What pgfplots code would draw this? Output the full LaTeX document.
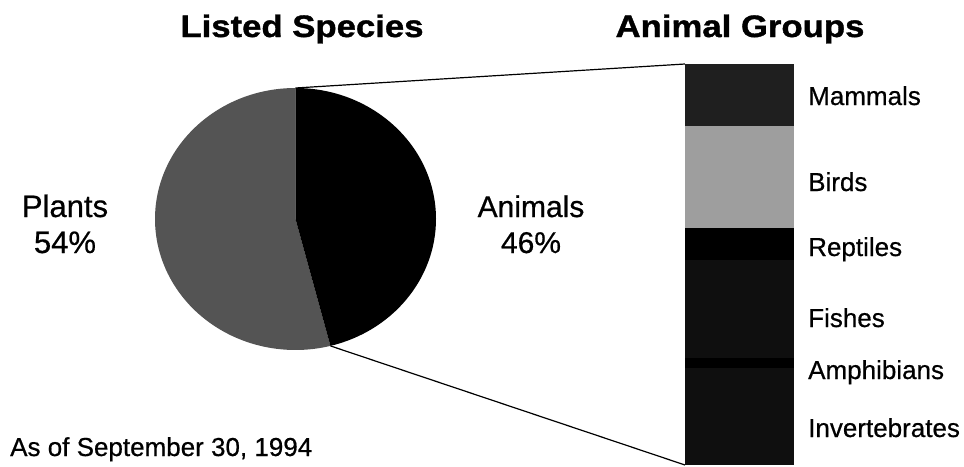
\documentclass[border=0pt]{standalone}
\usepackage{pgfplots}
\pgfplotsset{compat=1.18}
\usepackage{fontspec}
\setmainfont{Liberation Sans}[FakeBold=0.6]
\newfontfamily\titlefont{Liberation Sans Bold}[FakeStretch=1.12, FakeBold=1.2]

\definecolor{plantgray}{gray}{0.33}
\definecolor{mammalgray}{gray}{0.12}
\definecolor{birdgray}{gray}{0.62}
\definecolor{fishgray}{gray}{0.06}

% pie shares (percent)
\def\plants{54}
\def\animals{46}

\begin{document}
\begin{tikzpicture}
% frame axis: one unit = one pixel of the reference
\begin{axis}[
    at={(0pt,0pt)}, anchor=south west,
    scale only axis, width=964pt, height=466pt,
    xmin=0, xmax=964, ymin=0, ymax=466,
    y dir=reverse, hide axis, clip=false,
]
\addplot[draw=none] coordinates {(0,0) (964,466)};
\pgfmathsetmacro\aend{90-\animals*3.6}
\pgfmathsetmacro\pend{90+\plants*3.6}
% pie
\fill[plantgray] (axis cs:295.5,219) -- ++(90:140.5pt and 131pt)
    arc[start angle=90, end angle=\pend, x radius=140.5pt, y radius=131pt] -- cycle;
\fill[black] (axis cs:295.5,219) -- ++(90:140.5pt and 131pt)
    arc[start angle=90, end angle=\aend, x radius=140.5pt, y radius=131pt] -- cycle;
% connecting lines
\addplot[black, line width=1.2pt] coordinates {(295.5,88) (685,64)};
\addplot[black, line width=1.2pt] coordinates {(330.4,345.9) (685,465)};
% titles
\begin{scope}[every node/.style={anchor=base, inner sep=0pt, font=\fontsize{31}{36}\selectfont\titlefont}]
\node at (axis cs:302,37) {Listed Species};
\node at (axis cs:740,37) {Animal Groups};
\end{scope}
% pie labels
\begin{scope}[every node/.style={anchor=base, inner sep=0pt, font=\fontsize{31}{36}\selectfont}]
\node at (axis cs:65,217) {Plants};
\node at (axis cs:65,253) {54\%};
\node[font=\fontsize{30}{36}\selectfont] at (axis cs:531,217) {Animals};
\node[font=\fontsize{30}{36}\selectfont] at (axis cs:531,253) {46\%};
\end{scope}
% bar labels
\begin{scope}[every node/.style={anchor=base west, inner sep=0pt, font=\fontsize{26}{30}\selectfont}]
\node at (axis cs:808,105) {Mammals};
\node at (axis cs:808,191) {Birds};
\node at (axis cs:808,256) {Reptiles};
\node at (axis cs:808,327) {Fishes};
\node at (axis cs:808,379) {Amphibians};
\node at (axis cs:808,437) {Invertebrates};
\node at (axis cs:10,456) {As of September 30, 1994};
\end{scope}
\end{axis}

% stacked bar of animal groups
\begin{axis}[
    at={(685pt,1pt)}, anchor=south west,
    scale only axis, width=109pt, height=401pt,
    xmin=-0.5, xmax=0.5, ymin=0, ymax=401,
    y dir=reverse, hide axis,
    ybar stacked, bar width=109pt,
]
\addplot[fill=mammalgray, draw=none] coordinates {(0,62)};
\addplot[fill=birdgray, draw=none] coordinates {(0,102)};
\addplot[fill=black, draw=none] coordinates {(0,32)};
\addplot[fill=fishgray, draw=none] coordinates {(0,98)};
\addplot[fill=black, draw=none] coordinates {(0,10)};
\addplot[fill=fishgray, draw=none] coordinates {(0,97)};
\end{axis}
\end{tikzpicture}
\end{document}
